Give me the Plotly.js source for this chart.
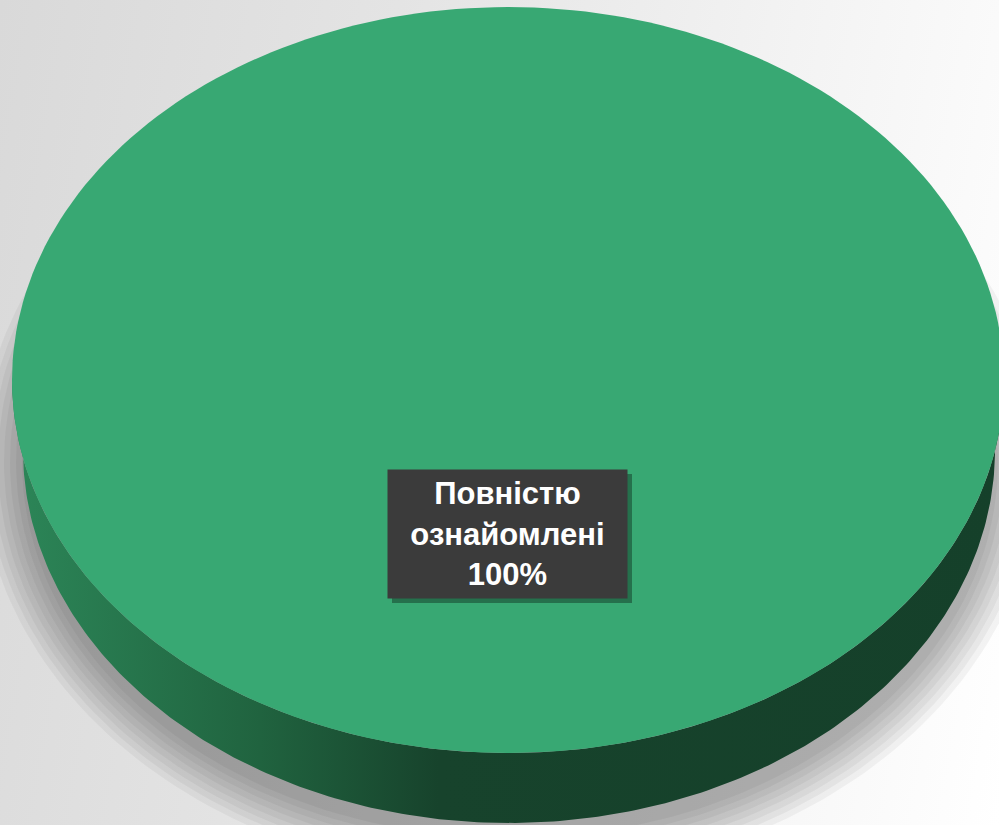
<!DOCTYPE html>
<html>
<head>
<meta charset="utf-8">
<script src="https://cdn.plot.ly/plotly-3.0.1.min.js"></script>
<style>
  html, body { margin: 0; padding: 0; }
  #chart {
    width: 999px; height: 825px;
    background: linear-gradient(100deg, #d9d9d9 0%, #e4e4e4 35%, #f3f3f3 70%, #ffffff 100%);
  }
</style>
</head>
<body>
<div id="chart"></div>
<script>
// ---- data ----
const categories = ['Повністю ознайомлені'];
const values = [100];

// ---- styling / geometry (not data) ----
const topColors = ['#38a873'];
const sideScales = [[[0, '#2c8658'], [0.25, '#20633f'], [0.43, '#17432c'], [1, '#15402a']]];
const TOP = { cx: 508, cy: 380, rx: 496, ry: 373 };
const BOT = { cx: 509, cy: 450, rx: 486, ry: 373 };

const total = values.reduce((s, v) => s + v, 0);
const N = 240;
const shadowTraces = [], sideTraces = [], topTraces = [];

function pt(e, t) { return [e.cx + e.rx * Math.cos(t), e.cy + e.ry * Math.sin(t)]; }

// soft drop shadow under the pie
for (let k = 8; k >= 1; k--) {
  const e = { cx: 510, cy: 462, rx: 482 + k * 6, ry: 370 + k * 6 };
  const xs = [], ys = [];
  for (let j = 0; j <= N; j++) { const p = pt(e, 2 * Math.PI * j / N); xs.push(p[0]); ys.push(p[1]); }
  shadowTraces.push({ type: 'scatter', mode: 'lines', x: xs, y: ys, fill: 'toself',
    fillcolor: 'rgba(0,0,0,0.045)', line: { width: 0 }, hoverinfo: 'skip', showlegend: false });
}

let start = -Math.PI / 2;
values.forEach((v, i) => {
  const frac = v / total;
  const end = start + 2 * Math.PI * frac;

  // top wedge
  const xs = [], ys = [];
  if (frac < 1) { xs.push(TOP.cx); ys.push(TOP.cy); }
  for (let k = 0; k <= N; k++) {
    const p = pt(TOP, start + (end - start) * k / N); xs.push(p[0]); ys.push(p[1]);
  }
  if (frac < 1) { xs.push(TOP.cx); ys.push(TOP.cy); }
  topTraces.push({
    type: 'scatter', mode: 'lines', x: xs, y: ys, fill: 'toself',
    fillcolor: topColors[i % topColors.length], line: { width: 0 },
    name: categories[i], hoverinfo: 'name', showlegend: false
  });

  // visible outer side (front half)
  for (let off = -2 * Math.PI; off <= 2 * Math.PI; off += 2 * Math.PI) {
    const a = Math.max(start, off), b = Math.min(end, Math.PI + off);
    if (b <= a) continue;
    const sx = [], sy = [];
    for (let k = 0; k <= N; k++) { const p = pt(TOP, a + (b - a) * k / N); sx.push(p[0]); sy.push(p[1]); }
    for (let k = N; k >= 0; k--) { const p = pt(BOT, a + (b - a) * k / N); sx.push(p[0]); sy.push(p[1]); }
    sideTraces.push({
      type: 'scatter', mode: 'lines', x: sx, y: sy, fill: 'toself',
      fillcolor: '#17432c',
      fillgradient: { type: 'horizontal', colorscale: sideScales[i % sideScales.length] },
      line: { width: 0 }, hoverinfo: 'skip', showlegend: false
    });
  }
  start = end;
});

const labelText = categories.map((c, i) =>
  c.split(' ').join('<br>') + '<br>' + Math.round(values[i] / total * 100) + '%');

const layout = {
  width: 999, height: 825,
  margin: { l: 0, r: 0, t: 0, b: 0 },
  paper_bgcolor: 'rgba(0,0,0,0)', plot_bgcolor: 'rgba(0,0,0,0)',
  xaxis: { range: [0, 999], visible: false, fixedrange: true },
  yaxis: { range: [825, 0], visible: false, fixedrange: true },
  showlegend: false,
  shapes: [
    { type: 'rect', xref: 'x', yref: 'y', x0: 392, x1: 632, y0: 474, y1: 603,
      fillcolor: 'rgba(15,45,28,0.45)', line: { width: 0 }, layer: 'above' }
  ],
  annotations: [
    {
      x: 507.5, y: 534, xref: 'x', yref: 'y', showarrow: false,
      text: '<b>' + labelText[0] + '</b>',
      font: { family: 'Liberation Sans, Arial, sans-serif', size: 31, color: '#ffffff' },
      bgcolor: '#3b3b3b', width: 235, height: 124, borderpad: 2
    }
  ]
};

Plotly.newPlot('chart', shadowTraces.concat(sideTraces, topTraces), layout, { displayModeBar: false, staticPlot: true });
</script>
</body>
</html>
